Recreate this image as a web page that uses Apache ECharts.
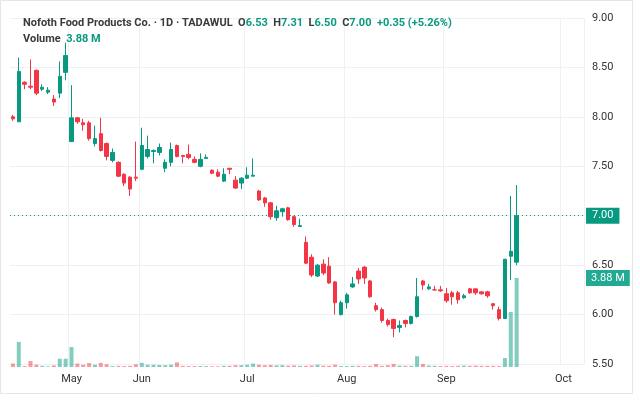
<!DOCTYPE html>
<html><head><meta charset="utf-8">
<script src="https://cdn.jsdelivr.net/npm/echarts@6/dist/echarts.min.js"></script>
<style>html,body{margin:0;padding:0;background:#fff}#c{width:640px;height:400px}</style>
</head><body><div id="c"></div>
<script>
// [open, close, low, high]
const candles = [
[8.00,7.98,7.96,8.02],[7.95,8.46,7.95,8.60],[8.35,8.33,8.28,8.36],[8.31,8.30,8.28,8.58],[8.47,8.24,8.22,8.48],
[8.28,8.30,8.26,8.33],[8.25,8.27,8.23,8.30],[8.18,8.15,8.11,8.22],[8.24,8.41,8.19,8.56],[8.45,8.62,8.37,8.75],
[7.75,7.99,7.75,8.32],[7.99,7.95,7.93,8.00],[7.94,7.92,7.86,7.98],[7.94,7.78,7.76,7.96],[7.73,7.78,7.70,7.91],
[7.83,7.66,7.65,7.99],[7.73,7.60,7.56,7.74],[7.56,7.64,7.54,7.68],[7.54,7.40,7.39,7.55],[7.42,7.33,7.30,7.43],
[7.39,7.27,7.20,7.40],[7.39,7.38,7.35,7.75],[7.47,7.71,7.46,7.89],[7.60,7.67,7.58,7.81],[7.65,7.66,7.53,7.67],
[7.64,7.69,7.61,7.73],[7.48,7.54,7.44,7.57],[7.54,7.67,7.50,7.74],[7.71,7.60,7.59,7.72],[7.61,7.60,7.53,7.61],
[7.62,7.59,7.57,7.72],[7.57,7.54,7.53,7.60],[7.50,7.57,7.49,7.63],[7.58,7.59,7.58,7.62],[7.46,7.43,7.42,7.47],
[7.44,7.40,7.39,7.47],[7.35,7.42,7.34,7.48],[7.48,7.47,7.42,7.48],[7.36,7.28,7.27,7.40],[7.33,7.38,7.27,7.39],
[7.38,7.41,7.37,7.49],[7.40,7.41,7.40,7.58],
[7.25,7.16,7.15,7.26],[7.18,7.13,7.09,7.19],[7.13,6.99,6.96,7.14],[6.98,7.05,6.95,7.10],[7.04,7.07,6.99,7.08],
[7.08,6.96,6.95,7.09],[6.99,6.91,6.89,7.00],[6.89,6.90,6.89,6.97],
[6.73,6.52,6.51,6.79],[6.58,6.40,6.38,6.61],[6.39,6.50,6.38,6.51],[6.51,6.42,6.40,6.56],[6.49,6.32,6.31,6.58],
[6.33,6.12,6.00,6.34],[6.00,6.12,5.99,6.14],[6.12,6.20,6.06,6.22],
[6.28,6.31,6.27,6.38],[6.44,6.36,6.31,6.47],[6.48,6.37,6.31,6.49],[6.34,6.18,6.17,6.35],[6.09,6.05,6.03,6.12],
[6.05,5.94,5.92,6.07],[5.94,5.90,5.88,5.96],[5.95,5.86,5.77,5.96],[5.87,5.89,5.82,5.94],[5.94,5.91,5.87,5.95],
[5.91,5.98,5.90,5.99],[5.98,6.18,5.97,6.37],[6.34,6.30,6.25,6.35],[6.26,6.28,6.25,6.31],[6.25,6.25,6.24,6.29],
[6.25,6.24,6.23,6.29],[6.21,6.14,6.12,6.27],[6.22,6.18,6.10,6.24],
[6.22,6.15,6.11,6.24],[6.17,6.19,6.16,6.21],[6.26,6.22,6.21,6.27],[6.26,6.22,6.20,6.26],[6.23,6.21,6.20,6.23],
[6.23,6.19,6.17,6.24],[6.11,6.09,6.05,6.11],[6.05,5.96,5.94,6.08],[5.96,6.56,5.96,6.56],[6.59,6.64,6.35,7.20],
[6.53,7.00,6.50,7.31]
];
// volume in millions
const volumes = [
0.15,1.09,0.04,0.26,0.10,0.05,0.03,0.07,0.36,0.36,
0.87,0.15,0.10,0.17,0.10,0.18,0.12,0.04,0.05,0.04,
0.05,0.12,0.18,0.10,0.10,0.09,0.08,0.10,0.20,0.05,
0.04,0.04,0.04,0.04,0.03,0.03,0.05,0.05,0.08,0.08,
0.10,0.15,0.10,0.08,0.09,0.07,0.08,0.06,0.07,0.05,
0.05,0.07,0.10,0.06,0.05,0.10,0.04,0.04,0.05,0.05,
0.04,0.05,0.13,0.05,0.08,0.13,0.06,0.05,0.05,0.47,
0.13,0.06,0.05,0.04,0.05,0.04,0.05,0.06,0.05,0.06,
0.05,0.05,0.05,0.04,0.39,2.40,3.88
];
const totalSlots = 98;
const monthLabels = {10:'May',22:'Jun',40:'Jul',57:'Aug',74:'Sep',94:'Oct'};
const priceTicks = {min:5.5, max:9.0, interval:0.5};
const lastClose = 7.00, lastVol = 3.88;

const UP='#089981', DOWN='#f23645';
const cats = Array.from({length: totalSlots}, (_, i) => String(i));
const volData = volumes.map((v, i) => ({
  value: v,
  itemStyle: {color: candles[i][1] >= candles[i][0] ? 'rgba(8,153,129,0.5)' : 'rgba(242,54,69,0.5)'}
}));
const chart = echarts.init(document.getElementById('c'));
const green = '#089981';
chart.setOption({
  animation: false,
  title: {
    left: 18, top: 10,
    text: '{b|Nofoth Food Products Co. · 1D · TADAWUL}  {b|O}{g|6.53}  {b|H}{g|7.31}  {b|L}{g|6.50}  {b|C}{g|7.00}  {g|+0.35 (+5.26%)}\n{b|Volume}  {g|3.88 M}',
    textStyle: {
      fontFamily: 'Roboto', fontSize: 11, lineHeight: 16,
      rich: {b: {color: '#3a3a3a', fontSize: 11, fontFamily:'Roboto'}, g: {color: green, fontSize: 11, fontFamily:'Roboto'}}
    }
  },
  grid: [
    {left: 10, right: 56, top: 18, bottom: 36},
    {left: 10, right: 56, bottom: 33, height: 150}
  ],
  xAxis: [
    {type: 'category', data: cats, gridIndex: 0, boundaryGap: true,
     axisLine: {show: false}, axisTick: {show: false},
     axisLabel: {show: true, interval: 0, margin: 10, color: '#333', fontSize: 11, fontFamily: 'Roboto',
       formatter: (v, i) => monthLabels[i] || ''},
     splitLine: {show: true, interval: (i) => monthLabels[i] !== undefined, lineStyle: {color: '#eef0f3'}}},
    {type: 'category', data: cats, gridIndex: 1, boundaryGap: true, show: false}
  ],
  yAxis: [
    {type: 'value', position: 'right', gridIndex: 0, min: priceTicks.min, max: priceTicks.max, interval: priceTicks.interval,
     axisLine: {show: false}, axisTick: {show: false},
     axisLabel: {color: '#333', fontSize: 11, fontFamily: 'Roboto', margin: 8, formatter: v => v.toFixed(2)},
     splitLine: {lineStyle: {color: '#eef0f3'}}},
    {type: 'value', gridIndex: 1, min: 0, max: 6.54, show: false, splitLine: {show: false}}
  ],
  series: [
    {type: 'bar', xAxisIndex: 1, yAxisIndex: 1, data: volData, barWidth: 4, z: 1,
     markLine: {symbol: 'none', silent: true, data: [{yAxis: lastVol}], lineStyle: {color: 'rgba(0,0,0,0)', width: 1},
       label: {show: true, position: 'end', formatter: '3.88 M', color: '#fff', backgroundColor: '#22ab94', padding: [3, 5, 2, 5], fontSize: 11, fontFamily: 'Roboto', distance: 2}}},
    {type: 'candlestick', data: candles, barWidth: 4, z: 3,
     itemStyle: {color: UP, color0: DOWN, borderColor: UP, borderColor0: DOWN, borderWidth: 1},
     markLine: {symbol: 'none', silent: true, data: [{yAxis: lastClose}],
       lineStyle: {color: '#089981', type: [1, 3], width: 1},
       label: {position: 'end', formatter: '7.00', color: '#fff', backgroundColor: '#089981', padding: [3, 6, 2, 6], fontSize: 11, fontFamily: 'Roboto', distance: 2}}}
  ],
  graphic: [{type: 'rect', shape: {x: 0.5, y: 0.5, width: 632, height: 393}, style: {fill: 'none', stroke: '#e6e6e6'}, silent: true}]
});
</script></body></html>
